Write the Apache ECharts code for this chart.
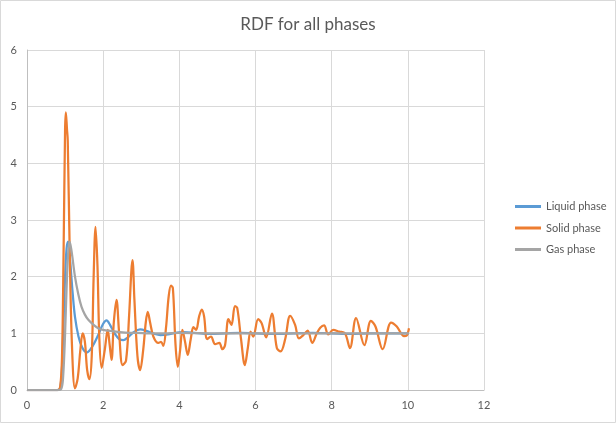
<!DOCTYPE html>
<html>
<head>
<meta charset="utf-8">
<script src="https://cdn.jsdelivr.net/npm/echarts@6/dist/echarts.min.js"></script>
<style>html,body{margin:0;padding:0;background:#fff;}#c{width:616px;height:423px;}</style>
</head>
<body>
<div id="c"></div>
<script>
const titleText = 'RDF for all phases';
const seriesNames = ['Liquid phase', 'Solid phase', 'Gas phase'];
const xTicks = [0, 2, 4, 6, 8, 10, 12];
const yTicks = [0, 1, 2, 3, 4, 5, 6];

const liquid = [[0,0],[0.8,0],[0.87,0.03],[0.92,0.4],[0.95,1.0],[1.0,2.0],[1.04,2.5],[1.08,2.62],[1.13,2.3],[1.2,1.7],[1.26,1.29],[1.35,0.95],[1.45,0.75],[1.57,0.66],[1.7,0.75],[1.87,0.97],[2.0,1.17],[2.09,1.23],[2.18,1.15],[2.3,1.0],[2.42,0.9],[2.53,0.88],[2.65,0.93],[2.8,1.02],[2.97,1.07],[3.15,1.04],[3.35,0.99],[3.5,0.97],[3.7,0.98],[3.9,1.01],[4.1,1.02],[4.4,1.01],[4.8,0.99],[5.2,1.0],[5.6,1.01],[6,1.0],[6.5,0.99],[7,1.0],[7.5,1.01],[8,1.0],[8.5,0.99],[9,1.0],[9.5,1.0],[10.03,1.0]];

const solid = [[0,0],[0.8,0],[0.87,0.05],[0.92,0.6],[0.96,2.4],[1.0,4.6],[1.02,4.9],[1.05,4.6],[1.07,4.4],[1.12,2.5],[1.18,0.8],[1.26,0.03],[1.33,0.2],[1.4,0.7],[1.46,1.0],[1.52,0.85],[1.58,0.35],[1.64,0.19],[1.7,0.6],[1.75,2.0],[1.8,2.88],[1.85,2.2],[1.9,0.9],[1.96,0.39],[2.04,0.7],[2.12,1.06],[2.17,0.8],[2.22,0.53],[2.28,1.2],[2.35,1.59],[2.42,1.0],[2.51,0.44],[2.6,0.52],[2.68,1.3],[2.74,2.1],[2.77,2.29],[2.82,1.6],[2.9,0.6],[2.97,0.35],[3.05,0.7],[3.12,1.2],[3.17,1.38],[3.23,1.2],[3.32,0.94],[3.45,0.83],[3.52,0.85],[3.58,0.78],[3.65,1.1],[3.72,1.65],[3.78,1.84],[3.83,1.8],[3.9,0.8],[3.96,0.41],[4.02,0.7],[4.08,1.06],[4.15,0.85],[4.22,0.62],[4.3,0.9],[4.37,1.11],[4.44,1.06],[4.52,1.3],[4.59,1.42],[4.65,1.3],[4.73,0.9],[4.83,0.94],[4.94,0.81],[5.05,0.83],[5.13,0.72],[5.2,0.79],[5.29,1.25],[5.37,1.15],[5.46,1.48],[5.52,1.45],[5.62,0.9],[5.72,0.44],[5.8,0.75],[5.87,1.03],[5.94,0.94],[6.07,1.25],[6.16,1.18],[6.28,0.93],[6.43,1.35],[6.56,0.74],[6.66,0.68],[6.78,0.9],[6.91,1.31],[7.04,1.15],[7.14,0.91],[7.26,0.97],[7.37,1.05],[7.49,0.83],[7.61,1.0],[7.7,1.1],[7.8,1.14],[7.91,0.98],[8.04,1.06],[8.2,1.03],[8.35,1.0],[8.48,0.74],[8.64,1.27],[8.86,0.79],[9.03,1.22],[9.15,1.12],[9.34,0.72],[9.56,1.19],[9.71,1.12],[9.9,0.95],[9.97,0.96],[10.03,1.09]];

const gas = [[0,0],[0.8,0],[0.9,0.02],[0.95,0.25],[1.0,1.0],[1.05,2.0],[1.09,2.5],[1.12,2.62],[1.17,2.45],[1.26,2.0],[1.35,1.68],[1.43,1.47],[1.52,1.33],[1.61,1.24],[1.75,1.15],[1.87,1.09],[2.0,1.06],[2.22,1.04],[2.44,1.02],[2.7,1.01],[2.88,1.01],[3.2,1.0],[3.6,1.0],[4.0,1.01],[5,1.0],[6,1.0],[7,1.0],[8,1.0],[9,1.0],[10.03,1.0]];

const colors = ['#5B9BD5', '#ED7D31', '#A5A5A5'];
const font = 'Lato, "Open Sans", sans-serif';
const chart = echarts.init(document.getElementById('c'), null, {renderer: 'canvas'});
const mk = (name, data, color) => ({
  name, type: 'line', data, smooth: 0.35, showSymbol: false, symbol: 'none',
  lineStyle: {color, width: 2.25}, itemStyle: {color}, animation: false
});
chart.setOption({
  animation: false,
  textStyle: {fontFamily: font},
  graphic: [{type: 'rect', shape: {x: 0.5, y: 0.5, width: 615, height: 422}, style: {fill: 'none', stroke: '#d9d9d9', lineWidth: 1}, silent: true}],
  title: {text: titleText, left: 'center', top: 11, textStyle: {fontFamily: font, fontSize: 17, fontWeight: 'normal', color: '#595959'}},
  legend: {
    orient: 'vertical', left: 510, top: 196, itemGap: 10.5, itemWidth: 26, itemHeight: 3,
    icon: 'rect', data: seriesNames,
    textStyle: {fontFamily: font, fontSize: 11, color: '#595959'}
  },
  grid: {left: 27, right: 132, top: 50, bottom: 33, containLabel: false},
  xAxis: {
    type: 'value', min: xTicks[0], max: xTicks[xTicks.length - 1], interval: 2,
    axisLine: {show: true, lineStyle: {color: '#bfbfbf', width: 1}},
    axisTick: {show: false},
    axisLabel: {color: '#595959', fontSize: 11, fontFamily: font, margin: 10},
    splitLine: {show: true, lineStyle: {color: '#d9d9d9', width: 1}}
  },
  yAxis: {
    type: 'value', min: yTicks[0], max: yTicks[yTicks.length - 1], interval: 1,
    axisLine: {show: true, lineStyle: {color: '#bfbfbf', width: 1}},
    axisTick: {show: false},
    axisLabel: {color: '#595959', fontSize: 11, fontFamily: font, margin: 10},
    splitLine: {show: true, lineStyle: {color: '#d9d9d9', width: 1}}
  },
  series: [mk(seriesNames[0], liquid, colors[0]), mk(seriesNames[1], solid, colors[1]), mk(seriesNames[2], gas, colors[2])]
});
</script>
</body>
</html>
